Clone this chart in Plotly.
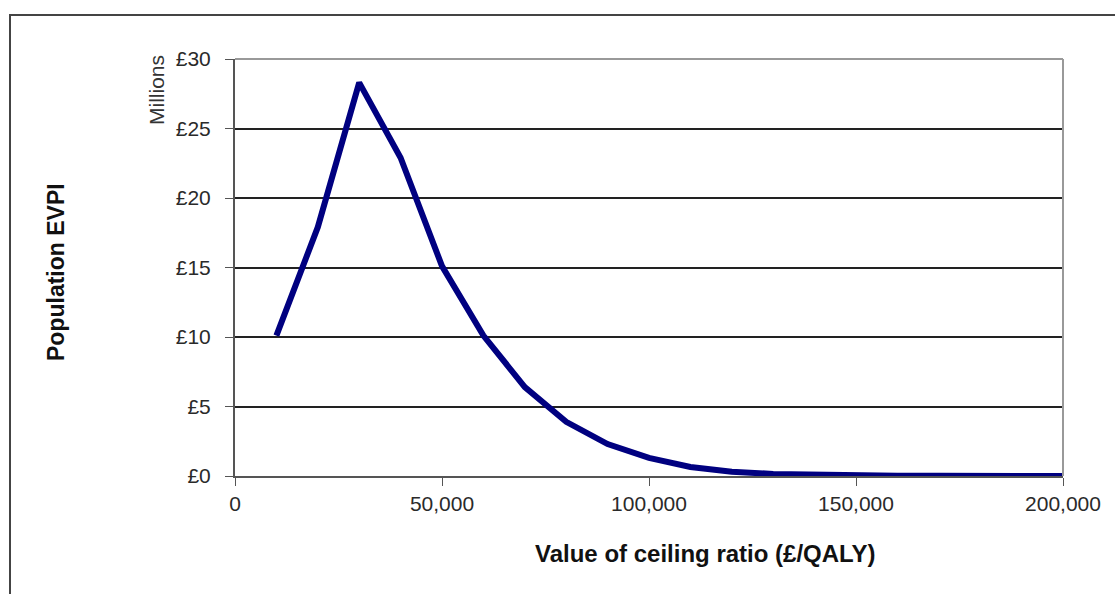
import plotly.graph_objects as go

ceiling = [10000, 20000, 30000, 40000, 50000, 60000, 70000, 80000, 90000, 100000,
           110000, 120000, 130000, 140000, 150000, 160000, 170000, 180000, 190000, 200000]
evpi_millions = [10.1, 17.9, 28.3, 22.9, 15.1, 10.1, 6.4, 3.9, 2.3, 1.3,
                 0.65, 0.3, 0.15, 0.08, 0.04, 0.02, 0.01, 0.0, 0.0, 0.0]
y_ticks = [0, 5, 10, 15, 20, 25, 30]
y_tick_labels = ["£0", "£5", "£10", "£15", "£20", "£25", "£30"]
x_ticks = [0, 50000, 100000, 150000, 200000]
x_tick_labels = ["0", "50,000", "100,000", "150,000", "200,000"]

fig = go.Figure()
fig.add_trace(go.Scatter(x=ceiling, y=evpi_millions, mode="lines",
                         line=dict(color="#000080", width=6), hoverinfo="skip"))

font = "Arial, Liberation Sans, sans-serif"
fig.update_layout(
    width=1115, height=594,
    margin=dict(l=235, r=52, t=59, b=118),
    paper_bgcolor="white", plot_bgcolor="white",
    showlegend=False,
    font=dict(family=font, size=21, color="#222"),
    xaxis=dict(range=[0, 200000], tickvals=x_ticks, ticktext=x_tick_labels,
               showgrid=False, zeroline=False, showline=True, linecolor="#555", linewidth=2,
               ticks="outside", ticklen=8, tickcolor="#555", tickwidth=1,
               tickfont=dict(size=21, color="#2a2a2a")),
    yaxis=dict(range=[0, 30], tickvals=y_ticks, ticktext=y_tick_labels,
               showgrid=True, gridcolor="#222", gridwidth=1.5, zeroline=False,
               showline=True, linecolor="#555", linewidth=2,
               ticks="outside", ticklen=8, tickcolor="#555", tickwidth=1,
               ticklabelstandoff=10,
               tickfont=dict(size=21, color="#2a2a2a")),
)

# plot-area border top/right (light gray)
fig.add_shape(type="line", xref="paper", yref="paper", x0=0, x1=1, y0=1, y1=1,
              line=dict(color="#999", width=2))
fig.add_shape(type="line", xref="paper", yref="paper", x0=1, x1=1, y0=0, y1=1,
              line=dict(color="#999", width=2))
# outer chart border
fig.add_shape(type="rect", xref="paper", yref="paper",
              x0=(10 - 235) / 828, x1=(1125 - 235) / 828,
              y0=(476 - 610) / 417, y1=(476 - 15) / 417,
              line=dict(color="#444", width=2), layer="below")

fig.add_annotation(text="Millions", xref="paper", yref="paper",
                   x=(156 - 235) / 828, y=(476 - 90) / 417, textangle=-90,
                   xanchor="center", yanchor="middle",
                   showarrow=False, font=dict(size=21, color="#333"))
fig.add_annotation(text="<b>Population EVPI</b>", xref="paper", yref="paper",
                   x=(56 - 235) / 828, y=(476 - 272) / 417, textangle=-90,
                   xanchor="center", yanchor="middle",
                   showarrow=False, font=dict(size=23, color="#111"))
fig.add_annotation(text="<b>Value of ceiling ratio (£/QALY)</b>", xref="paper", yref="paper",
                   x=(705 - 235) / 828, y=(476 - 553) / 417,
                   xanchor="center", yanchor="middle",
                   showarrow=False, font=dict(size=24, color="#111"))

fig.write_html("out.html")
